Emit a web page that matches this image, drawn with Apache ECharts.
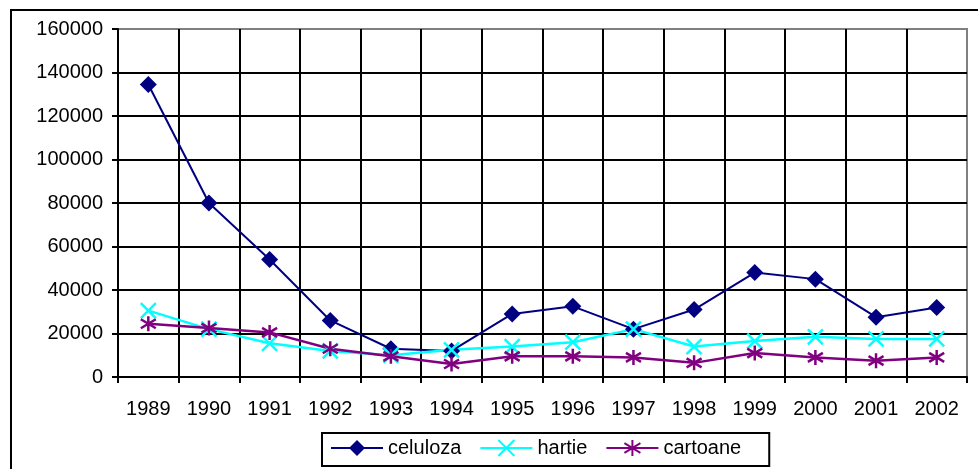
<!DOCTYPE html>
<html>
<head>
<meta charset="utf-8">
<script src="https://cdn.jsdelivr.net/npm/echarts@6/dist/echarts.min.js"></script>
<style>
  html, body { margin: 0; padding: 0; background: #fff; }
  #chart { width: 978px; height: 469px; }
</style>
</head>
<body>
<div id="chart"></div>
<script>
// ani si productie (tone)
var years = ['1989','1990','1991','1992','1993','1994','1995','1996','1997','1998','1999','2000','2001','2002'];
var celuloza = [134500, 80000, 54000, 26000, 13000, 12000, 29000, 32500, 22000, 31000, 48000, 45000, 27500, 32000];
var hartie = [30500, 22000, 15500, 12000, 10000, 12500, 14000, 16000, 22000, 14000, 16500, 18500, 17500, 17500];
var cartoane = [24500, 22500, 20500, 13000, 9500, 6000, 9500, 9500, 9000, 6500, 11000, 9000, 7500, 9000];

var fontFam = '"Liberation Sans", Arial, sans-serif';
var crossSym = 'path://M0,0L10,10M10,0L0,10';
var starSym = 'path://M5,0L5,10M0,2L10,8M0,8L10,2';

var chart = echarts.init(document.getElementById('chart'));
var option = {
    animation: false,
    backgroundColor: '#fff',
    graphic: [{
        type: 'rect',
        shape: { x: 11, y: 10, width: 1000, height: 500 },
        style: { fill: 'none', stroke: '#000', lineWidth: 2 },
        z: -1
    }],
    grid: {
        left: 118, top: 29, right: 11, bottom: 92,
        show: true, borderColor: '#808080', borderWidth: 2, backgroundColor: '#fff'
    },
    legend: {
        left: 322, top: 433,
        padding: [5, 28, 8, 8],
        borderColor: '#000', borderWidth: 2, borderRadius: 0,
        itemWidth: 52, itemHeight: 20, itemGap: 18,
        textStyle: { fontFamily: fontFam, fontSize: 20, color: '#000' },
        data: ['celuloza', 'hartie', 'cartoane']
    },
    xAxis: {
        type: 'category',
        data: years,
        boundaryGap: true,
        axisLine: { lineStyle: { color: '#000', width: 2 } },
        axisTick: { show: true, length: 6, lineStyle: { color: '#000', width: 2 } },
        axisLabel: { color: '#000', fontFamily: fontFam, fontSize: 20, margin: 22 },
        splitLine: { show: true, showMaxLine: false, lineStyle: { color: '#000', width: 2 } }
    },
    yAxis: {
        type: 'value',
        min: 0, max: 160000, interval: 20000,
        axisLine: { show: true, lineStyle: { color: '#000', width: 2 } },
        axisTick: { show: true, length: 6, lineStyle: { color: '#000', width: 2 } },
        axisLabel: {
            color: '#000', fontFamily: fontFam, fontSize: 20, margin: 15,
            formatter: function (v) { return String(v); }
        },
        splitLine: { show: true, showMaxLine: false, lineStyle: { color: '#000', width: 2 } }
    },
    series: [{
        name: 'celuloza', type: 'line', data: celuloza,
        symbol: 'diamond', symbolSize: 17,
        lineStyle: { color: '#000080', width: 2 },
        itemStyle: { color: '#000080' }
    }, {
        name: 'hartie', type: 'line', data: hartie,
        symbol: crossSym, symbolSize: 15,
        lineStyle: { color: '#00ffff', width: 2.5 },
        itemStyle: { color: '#00ffff', borderColor: '#00ffff', borderWidth: 2.5 }
    }, {
        name: 'cartoane', type: 'line', data: cartoane,
        symbol: starSym, symbolSize: 15,
        lineStyle: { color: '#800080', width: 2.5 },
        itemStyle: { color: '#800080', borderColor: '#800080', borderWidth: 2.5 }
    }]
};
chart.setOption(option);
</script>
</body>
</html>
